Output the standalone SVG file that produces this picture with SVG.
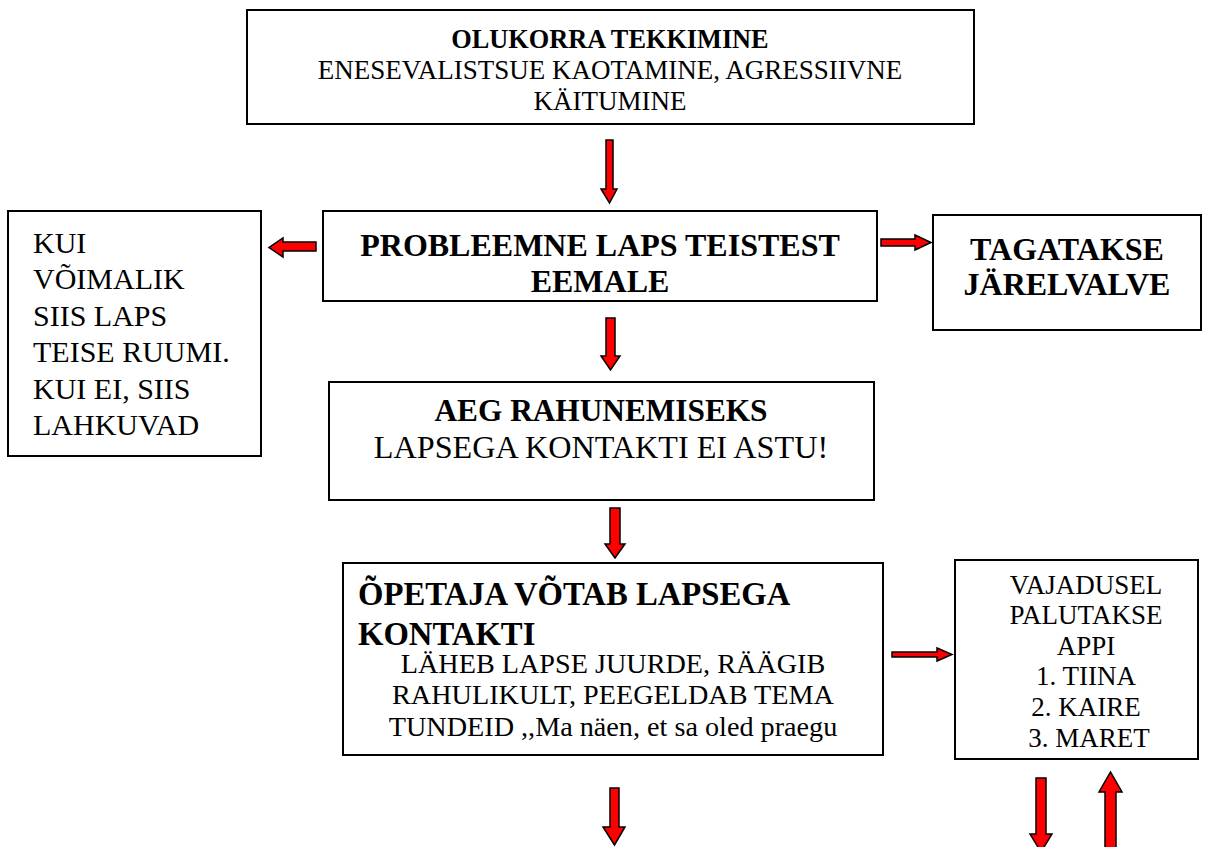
<svg xmlns="http://www.w3.org/2000/svg" width="1216" height="847" viewBox="0 0 1216 847">
<style>
.box{fill:#fff;stroke:#000;stroke-width:2}
.t{font-family:'Liberation Serif','Times New Roman',serif;fill:#000}
.b{font-weight:bold}
.c{text-anchor:middle}
.arr{fill:#ff0000;stroke:#000;stroke-width:1.5;stroke-linejoin:miter}
</style>
<rect width="1216" height="847" fill="#fff"/>
<g id="node-olukord">
<rect class="box" x="247" y="10" width="727" height="114"/>
<text class="t b c" x="610" y="48" font-size="26.3">OLUKORRA TEKKIMINE</text>
<text class="t c" x="610" y="79" font-size="27">ENESEVALISTSUE KAOTAMINE, AGRESSIIVNE</text>
<text class="t c" x="610" y="110" font-size="27">KÄITUMINE</text>
</g>
<g id="node-probleemne">
<rect class="box" x="323" y="211" width="554" height="90"/>
<text class="t b c" x="600" y="256" font-size="32">PROBLEEMNE LAPS TEISTEST</text>
<text class="t b c" x="600" y="292" font-size="32">EEMALE</text>
</g>
<g id="node-kui">
<rect class="box" x="8" y="211" width="253" height="245"/>
<text class="t" x="33" y="253" font-size="30">KUI</text>
<text class="t" x="33" y="289" font-size="30">VÕIMALIK</text>
<text class="t" x="33" y="326" font-size="30">SIIS LAPS</text>
<text class="t" x="33" y="362" font-size="30">TEISE RUUMI.</text>
<text class="t" x="33" y="399" font-size="30">KUI EI, SIIS</text>
<text class="t" x="33" y="435" font-size="30">LAHKUVAD</text>
</g>
<g id="node-tagatakse">
<rect class="box" x="933" y="215" width="268" height="115"/>
<text class="t b c" x="1067" y="260" font-size="32">TAGATAKSE</text>
<text class="t b c" x="1067" y="295" font-size="32">JÄRELVALVE</text>
</g>
<g id="node-aeg">
<rect class="box" x="329" y="382" width="545" height="118"/>
<text class="t b c" x="601" y="421" font-size="31.3">AEG RAHUNEMISEKS</text>
<text class="t c" x="601" y="458" font-size="32.2">LAPSEGA KONTAKTI EI ASTU!</text>
</g>
<g id="node-opetaja">
<rect class="box" x="343" y="563" width="540" height="192"/>
<text class="t b" x="358" y="605" font-size="32.7">ÕPETAJA VÕTAB LAPSEGA</text>
<text class="t b" x="358" y="645" font-size="32.7">KONTAKTI</text>
<text class="t c" x="613" y="673" font-size="28.2">LÄHEB LAPSE JUURDE, RÄÄGIB</text>
<text class="t c" x="613" y="704" font-size="28.2">RAHULIKULT, PEEGELDAB TEMA</text>
<text class="t c" x="613" y="736" font-size="28.2">TUNDEID ,,Ma näen, et sa oled praegu</text>
</g>
<g id="node-vajadusel">
<rect class="box" x="955" y="560" width="243" height="199"/>
<text class="t c" x="1086" y="594" font-size="27">VAJADUSEL</text>
<text class="t c" x="1086" y="624" font-size="27">PALUTAKSE</text>
<text class="t c" x="1086" y="655" font-size="27">APPI</text>
<text class="t c" x="1086" y="685" font-size="27">1. TIINA</text>
<text class="t c" x="1086" y="716" font-size="27">2. KAIRE</text>
<text class="t c" x="1089" y="747" font-size="27">3. MARET</text>
</g>
<g id="connectors">
<polygon class="arr" points="606,140 613,140 613,189 617,189 609.5,203 601,189 606,189"/>
<polygon class="arr" points="316,242 283,242 283,238 269,247.5 283,257 283,251 316,251"/>
<polygon class="arr" points="881,239 915,239 915,235 931,242.5 915,250 915,246 881,246"/>
<polygon class="arr" points="606,318 615,318 615,356 620,356 610.5,370 601,356 606,356"/>
<polygon class="arr" points="610,508 620,508 620,544 625,544 615,558 605,544 610,544"/>
<polygon class="arr" points="892,652 937,652 937,648 952,654.5 937,661 937,657 892,657"/>
<polygon class="arr" points="610,788 619,788 619,827 625,827 614.5,845 603,827 610,827"/>
<polygon class="arr" points="1036,778 1046,778 1046,834 1052,834 1041,852 1030,834 1036,834"/>
<polygon class="arr" points="1105,850 1105,792 1099,792 1110.5,772 1122,792 1116,792 1116,850"/>
</g>
</svg>
